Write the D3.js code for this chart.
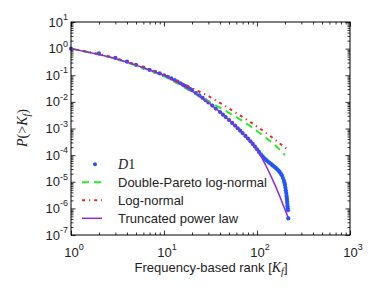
<!DOCTYPE html>
<html><head><meta charset="utf-8">
<script src="https://cdn.jsdelivr.net/npm/d3@7"></script>
<style>body{margin:0;background:#fff}</style></head>
<body>
<svg id="c" width="374" height="299"></svg>
<script>
// D1 empirical CCDF (frequency-based rank vs P(>K_f))
const rankD1 = [1,2,3,4,5,6,7,8,9,10,11,12,13,14,15,16,17,18,19,20,
  22,24,26,28,30,33,36,40,43,46,50,54,58,62,66,70,75,80,85,90,95,100,
  105,110,115,120,125,130,135,140,145,150,155,160,165,170,175,180,185,190,195,198,
  200,202,204,206,208,209,210,211,212,213,214,215,217];
const probD1 = [1,0.66,0.447,0.324,0.245,0.195,0.158,0.135,0.117,0.100,0.0871,0.0759,0.0661,0.0575,0.0501,0.0437,0.0389,0.0347,0.0309,0.0275,
  0.0214,0.0174,0.0141,0.0115,0.00955,0.00724,0.00562,0.00417,0.00331,0.00269,0.00209,0.00162,0.00129,0.00102,8.3e-4,6.76e-4,5.25e-4,4.17e-4,3.31e-4,2.63e-4,2.09e-4,1.66e-4,
  1.32e-4,1.07e-4,8.9e-5,7.6e-5,6.6e-5,5.9e-5,5.2e-5,4.8e-5,4.3e-5,3.9e-5,3.55e-5,3.24e-5,2.95e-5,2.63e-5,2.34e-5,2.04e-5,1.74e-5,1.38e-5,1.07e-5,8.9e-6,
  7.6e-6,6.0e-6,4.8e-6,3.8e-6,2.95e-6,2.5e-6,2.1e-6,1.74e-6,1.45e-6,1.2e-6,1.0e-6,8.5e-7,4.2e-7];

// Double-Pareto log-normal fit
const xDPLN = [1,2,3,5,7,10,15,20,25,30,40,50,60,70,80,100,120,140,160,180,200];
const pDPLN = [1,0.603,0.417,0.234,0.151,0.0933,0.0427,0.0234,0.0148,0.0105,0.00603,0.00389,0.00269,0.00191,0.00141,8.1e-4,5.0e-4,3.24e-4,2.19e-4,1.48e-4,1.0e-4];

// Log-normal fit
const xLN = [1,2,3,5,7,10,15,20,25,30,40,50,60,70,80,100,120,140,160,180,200,214];
const pLN = [1,0.63,0.447,0.251,0.166,0.105,0.0537,0.0331,0.0224,0.0166,0.00912,0.00562,0.0038,0.00269,0.002,0.00117,7.6e-4,5.1e-4,3.55e-4,2.57e-4,1.91e-4,1.62e-4];

// Truncated power law fit
const xTPL = [1,2,3,5,7,10,15,20,30,40,50,60,70,80,90,100,110,120,130,140,160,180,200,216];
const pTPL = [1,0.603,0.427,0.240,0.158,0.100,0.0468,0.0251,0.00955,0.00417,0.00209,0.00115,6.76e-4,4.17e-4,2.63e-4,1.58e-4,9.3e-5,5.25e-5,3.02e-5,1.74e-5,6.3e-6,2.29e-6,8.9e-7,4.6e-7];

const xTickExps = [0,1,2,3];
const yTickExps = [1,0,-1,-2,-3,-4,-5,-6,-7];
const legendLabels = ["Double-Pareto log-normal","Log-normal","Truncated power law"];

const svg = d3.select("#c");
const L=71, R=350, T=22, B=235;
const x = d3.scaleLog().domain([1,1000]).range([L,R]);
const y = d3.scaleLog().domain([1e-7,10]).range([B,T]);

const cBlue="#2255ff", cGreen="#22ee22", cRed="#ee2222", cPurple="#8a2be2";
const sans="'Liberation Sans', Arial, sans-serif", serif="'Liberation Serif','Times New Roman',serif";

// minor tick positions
const xMinor=[], yMinor=[];
for(let e=0;e<3;e++) for(let k=2;k<10;k++) xMinor.push(k*Math.pow(10,e));
for(let e=-7;e<1;e++) for(let k=2;k<10;k++) yMinor.push(k*Math.pow(10,e));
const xMajor = xTickExps.map(e=>Math.pow(10,e));
const yMajor = yTickExps.map(e=>Math.pow(10,e));

function ax(gen, tr, vals, size){
  const g = svg.append("g").attr("transform",tr)
    .call(gen.tickValues(vals).tickSize(size).tickFormat(""));
  g.select(".domain").remove();
  g.selectAll("line").attr("stroke","#000").attr("stroke-width",0.8);
}
ax(d3.axisBottom(x),`translate(0,${B})`,xMajor,-4.5);
ax(d3.axisBottom(x),`translate(0,${B})`,xMinor,-2.5);
ax(d3.axisTop(x),`translate(0,${T})`,xMajor,-4.5);
ax(d3.axisTop(x),`translate(0,${T})`,xMinor,-2.5);
ax(d3.axisLeft(y),`translate(${L},0)`,yMajor,-4.5);
ax(d3.axisLeft(y),`translate(${L},0)`,yMinor,-2.5);
ax(d3.axisRight(y),`translate(${R},0)`,yMajor,-4.5);
ax(d3.axisRight(y),`translate(${R},0)`,yMinor,-2.5);

// data: D1 points
const gp = svg.append("g");
gp.selectAll("circle").data(rankD1.map((r,i)=>[r,probD1[i]])).enter().append("circle")
  .attr("cx",d=>x(d[0])).attr("cy",d=>y(d[1])).attr("r",2.1).attr("fill",cBlue);

const line = d3.line().x(d=>x(d[0])).y(d=>y(d[1]));
function drawLine(xs,ps,col,w,dash){
  svg.append("path").datum(xs.map((v,i)=>[v,ps[i]])).attr("d",line)
    .attr("fill","none").attr("stroke",col).attr("stroke-width",w)
    .attr("stroke-dasharray",dash||null);
}
drawLine(xDPLN,pDPLN,cGreen,2,"7,5");
drawLine(xLN,pLN,cRed,2,"3,4,1.2,4");
drawLine(xTPL,pTPL,cPurple,1.5,null);

// frame
svg.append("rect").attr("x",L).attr("y",T).attr("width",R-L).attr("height",B-T)
  .attr("fill","none").attr("stroke","#000").attr("stroke-width",1);

// tick labels
xTickExps.forEach(e=>{
  const t=svg.append("text").attr("x",x(Math.pow(10,e))+3).attr("y",256.5)
    .attr("text-anchor","middle").attr("font-family",sans).attr("font-size",13).attr("fill","#222");
  t.append("tspan").text("10");
  t.append("tspan").attr("dy",-6.5).attr("font-size",9).text(e);
});
yTickExps.forEach(e=>{
  const t=svg.append("text").attr("x",68).attr("y",y(Math.pow(10,e))+4.5)
    .attr("text-anchor","end").attr("font-family",sans).attr("font-size",13).attr("fill","#222");
  t.append("tspan").text("10");
  t.append("tspan").attr("dy",-6.5).attr("font-size",9).text(e<0?"-"+(-e):e);
});

// x-axis title
const xt=svg.append("text").attr("x",211).attr("y",271.5).attr("text-anchor","middle")
  .attr("font-family",sans).attr("font-size",13).attr("fill","#222");
xt.append("tspan").text("Frequency-based rank [");
xt.append("tspan").attr("font-family",serif).attr("font-style","italic").attr("font-size",14).text("K");
xt.append("tspan").attr("font-family",serif).attr("font-style","italic").attr("font-size",10).attr("dy",3).text("f");
xt.append("tspan").attr("dy",-3).text("]");

// y-axis title
const yt=svg.append("text").attr("transform","translate(27,128) rotate(-90)").attr("text-anchor","middle")
  .attr("font-family",serif).attr("font-size",14).attr("fill","#222");
yt.append("tspan").attr("font-style","italic").text("P");
yt.append("tspan").text("(>");
yt.append("tspan").attr("font-style","italic").text("K");
yt.append("tspan").attr("font-style","italic").attr("font-size",10).attr("dy",3).text("f");
yt.append("tspan").attr("dy",-3).text(")");

// legend
const lg=svg.append("g");
lg.append("circle").attr("cx",95).attr("cy",164.3).attr("r",2).attr("fill",cBlue);
const d1=lg.append("text").attr("x",118).attr("y",169).attr("font-family",serif).attr("font-size",14).attr("fill","#222");
d1.append("tspan").attr("font-style","italic").text("D");
d1.append("tspan").text("1");
const lstyles=[[cGreen,2,"7,5"],[cRed,2,"3,4,1.2,4"],[cPurple,1.5,null]];
legendLabels.forEach((lab,i)=>{
  const yy=182.3+i*18;
  lg.append("line").attr("x1",82).attr("x2",102).attr("y1",yy).attr("y2",yy)
    .attr("stroke",lstyles[i][0]).attr("stroke-width",lstyles[i][1]).attr("stroke-dasharray",lstyles[i][2]);
  lg.append("text").attr("x",118).attr("y",yy+4.6).attr("font-family",sans).attr("font-size",13)
    .attr("fill","#222").text(lab);
});
</script>
</body></html>
